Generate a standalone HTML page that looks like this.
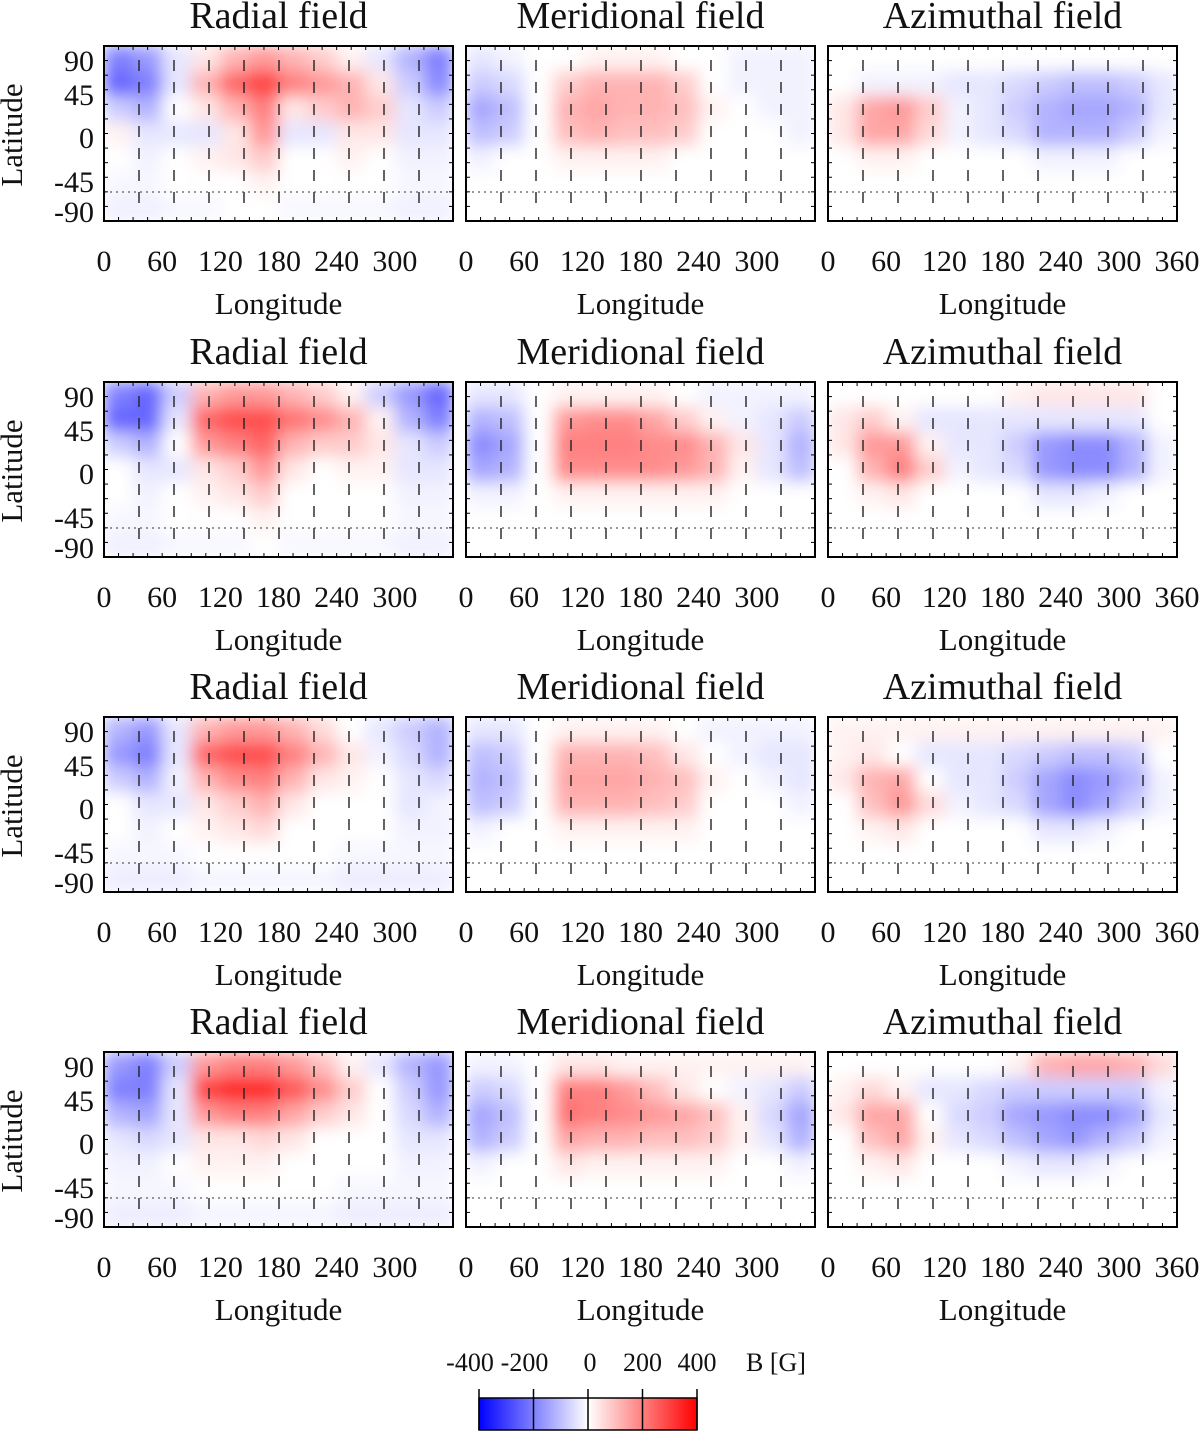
<!DOCTYPE html>
<html><head><meta charset="utf-8">
<style>
body{margin:0;background:#fff;}
svg text{font-family:"Liberation Serif",serif;fill:#111;}
</style></head>
<body>
<svg id="chart" width="1200" height="1432" viewBox="0 0 1200 1432" xmlns="http://www.w3.org/2000/svg">
<defs>
<filter id="blur" x="0" y="0" width="1" height="1"><feGaussianBlur stdDeviation="8" edgeMode="duplicate"/></filter>
<linearGradient id="cbar" x1="0" x2="1" y1="0" y2="0">
<stop offset="0" stop-color="#0000ff"/><stop offset="0.5" stop-color="#ffffff"/><stop offset="1" stop-color="#ff0000"/>
</linearGradient>
</defs>
</svg>
<script>
// Column titles, tick labels
const fieldTitles = ["Radial field","Meridional field","Azimuthal field"];
const lonTicks = [0,60,120,180,240,300,360];
const latTicks = ["90","45","0","-45","-90"];
const cbarTicks = [-400,-200,0,200,400];
// Heatmap grids: 7 latitude rows (north->south) x 12 longitude columns, values in units of 400 G
const gridR1 = [[-0.5,-0.4,-0.1,0.1,0.3,0.4,0.3,0.2,0.05,-0.1,-0.3,-0.5],[-0.6,-0.5,-0.1,0.3,0.6,0.75,0.5,0.4,0.3,0.1,-0.2,-0.45],[-0.2,-0.3,0,0.1,0.3,0.5,0.1,0.2,0.3,0.2,-0.1,-0.2],[0.05,-0.1,-0.1,-0.1,0.1,0.4,-0.1,-0.1,0.1,0.1,-0.1,-0.1],[0,-0.05,0,0.05,0.1,0.2,0,0,0.05,0,-0.05,-0.05],[-0.03,-0.03,0,0,0,0.05,0,0,0,0,-0.03,-0.03],[-0.06,-0.06,-0.03,-0.03,0,0,-0.03,-0.03,-0.03,-0.03,-0.06,-0.06]];
const gridM1 = [[-0.1,-0.05,0,0,0.05,0.05,0.05,0,0,-0.05,-0.05,-0.05],[-0.2,-0.15,0,0.2,0.3,0.3,0.3,0.2,0,-0.05,-0.05,-0.05],[-0.35,-0.25,0,0.3,0.35,0.3,0.3,0.25,0.05,0,-0.05,-0.05],[-0.25,-0.2,0,0.25,0.3,0.25,0.25,0.2,0,0,0,-0.05],[-0.05,0,0,0.05,0.05,0.05,0.05,0,0,0,0,0],[0,0,0,0,0,0,0,0,0,0,0,0],[0,0,0,0,0,0,0,0,0,0,0,0]];
const gridA1 = [[0,0,0,0,0,0,0,0,0,0,0,0],[0,-0.05,-0.05,-0.05,-0.1,-0.1,-0.15,-0.2,-0.25,-0.25,-0.2,-0.1],[0.1,0.35,0.4,0.2,-0.05,-0.1,-0.2,-0.3,-0.35,-0.35,-0.3,-0.1],[0.1,0.35,0.35,0.15,-0.05,-0.1,-0.15,-0.3,-0.3,-0.3,-0.2,-0.05],[0,0.05,0.05,0,0,0,0,-0.05,-0.05,-0.05,0,0],[0,0,0,0,0,0,0,0,0,0,0,0],[0,0,0,0,0,0,0,0,0,0,0,0]];
const gridR2 = [[-0.5,-0.6,-0.2,0.3,0.4,0.4,0.3,0.2,0.05,-0.2,-0.4,-0.6],[-0.6,-0.6,-0.1,0.6,0.7,0.7,0.55,0.45,0.3,0.05,-0.3,-0.5],[-0.2,-0.3,0,0.4,0.5,0.6,0.3,0.2,0.2,0.1,-0.1,-0.2],[0,-0.1,-0.1,0.1,0.2,0.4,0.1,0,0.05,0.05,-0.1,-0.1],[0,-0.05,0,0.05,0.1,0.2,0,0,0,0,-0.05,-0.05],[-0.03,-0.03,0,0,0,0.05,0,0,0,0,-0.03,-0.03],[-0.06,-0.06,-0.03,-0.03,-0.03,0,-0.03,-0.03,-0.03,-0.03,-0.06,-0.06]];
const gridM2 = [[-0.1,-0.1,0,0.05,0.05,0.05,0.05,0,-0.05,-0.05,-0.05,-0.05],[-0.3,-0.25,0,0.4,0.45,0.45,0.35,0.2,0.05,-0.05,-0.1,-0.2],[-0.45,-0.35,0,0.5,0.5,0.5,0.45,0.45,0.3,0.1,-0.1,-0.3],[-0.35,-0.3,0,0.45,0.45,0.45,0.45,0.4,0.3,0.05,-0.1,-0.25],[-0.05,-0.05,0,0.05,0.05,0.05,0.05,0.05,0.05,0,0,0],[0,0,0,0,0,0,0,0,0,0,0,0],[0,0,0,0,0,0,0,0,0,0,0,0]];
const gridA2 = [[0,0,0,0,0,0,0.05,0.1,0.1,0.1,0.1,0],[0.1,0.2,0.05,-0.1,-0.1,-0.1,-0.1,-0.1,-0.1,-0.1,-0.1,0],[0.1,0.4,0.4,0.05,-0.1,-0.1,-0.2,-0.4,-0.45,-0.45,-0.3,-0.05],[0,0.3,0.5,0.2,-0.05,-0.1,-0.15,-0.4,-0.45,-0.45,-0.3,-0.05],[0,0.05,0.1,0,0,0,0,-0.1,-0.1,-0.05,0,0],[0,0,0,0,0,0,0,0,0,0,0,0],[0,0,0,0,0,0,0,0,0,0,0,0]];
const gridR3 = [[-0.3,-0.4,-0.1,0.3,0.4,0.4,0.3,0.15,0,-0.1,-0.2,-0.3],[-0.4,-0.5,-0.1,0.6,0.7,0.7,0.5,0.3,0.1,-0.05,-0.15,-0.3],[-0.2,-0.3,-0.05,0.3,0.45,0.5,0.3,0.1,0.05,0,-0.1,-0.15],[0,-0.1,-0.1,0.1,0.2,0.3,0.1,0,0,0,-0.1,-0.05],[0,-0.05,0,0.05,0.1,0.15,0,0,0,0,-0.05,-0.05],[-0.03,-0.03,-0.03,0,0,0,0,0,-0.03,-0.03,-0.03,-0.03],[-0.07,-0.07,-0.07,-0.04,-0.04,-0.04,-0.04,-0.04,-0.07,-0.07,-0.07,-0.07]];
const gridM3 = [[-0.1,-0.1,0,0.05,0.05,0.05,0.05,0,-0.05,-0.05,-0.05,-0.05],[-0.25,-0.2,0,0.3,0.3,0.3,0.25,0.1,0,-0.05,-0.1,-0.1],[-0.3,-0.25,0,0.35,0.35,0.35,0.3,0.25,0.05,0,-0.05,-0.1],[-0.25,-0.2,0,0.3,0.3,0.3,0.25,0.2,0,0,0,-0.05],[-0.05,0,0,0.05,0.05,0.05,0.05,0.05,0,0,0,0],[0,0,0,0,0,0,0,0,0,0,0,0],[0,0,0,0,0,0,0,0,0,0,0,0]];
const gridA3 = [[0.05,0.05,0.05,0.05,0.05,0.05,0.05,0.05,0.05,0.05,0.05,0.05],[0.05,0.1,0,-0.1,-0.1,-0.1,-0.15,-0.2,-0.25,-0.25,-0.2,0],[0.1,0.3,0.35,0,-0.1,-0.1,-0.2,-0.35,-0.45,-0.4,-0.3,-0.05],[0,0.25,0.4,0.15,-0.05,-0.1,-0.15,-0.35,-0.45,-0.35,-0.2,-0.05],[0,0.05,0.1,0,0,0,0,-0.1,-0.1,-0.05,0,0],[0,0,0,0,0,0,0,0,0,0,0,0],[0,0,0,0,0,0,0,0,0,0,0,0]];
const gridR4 = [[-0.4,-0.5,-0.2,0.4,0.5,0.5,0.4,0.25,0.05,-0.1,-0.3,-0.4],[-0.5,-0.5,-0.1,0.75,0.85,0.85,0.65,0.45,0.2,0,-0.2,-0.4],[-0.3,-0.35,-0.1,0.4,0.5,0.5,0.35,0.2,0.1,0,-0.15,-0.3],[-0.1,-0.15,-0.1,0.1,0.1,0.15,0.1,0,0,0,-0.1,-0.1],[-0.05,-0.05,0,0.05,0.05,0.05,0,0,0,0,-0.05,-0.05],[-0.03,-0.03,-0.03,0,0,0,0,0,-0.03,-0.03,-0.03,-0.03],[-0.07,-0.07,-0.07,-0.04,-0.04,-0.04,-0.04,-0.04,-0.07,-0.07,-0.07,-0.07]];
const gridM4 = [[-0.05,-0.05,0,0.1,0.1,0.05,0.05,0.05,0.05,0.05,0.05,0.05],[-0.2,-0.15,0,0.5,0.5,0.4,0.25,0.1,0,-0.05,-0.1,-0.2],[-0.35,-0.25,0,0.55,0.5,0.45,0.4,0.35,0.25,0.05,-0.15,-0.35],[-0.3,-0.2,0,0.35,0.3,0.3,0.25,0.25,0.2,0.05,-0.1,-0.3],[-0.05,0,0,0.1,0.05,0.05,0.05,0.05,0.05,0,0,-0.05],[0,0,0,0,0,0,0,0,0,0,0,0],[0,0,0,0,0,0,0,0,0,0,0,0]];
const gridA4 = [[0,0,0,0,0,0,0.05,0.3,0.35,0.35,0.3,0.15],[0.05,0.15,0.05,-0.1,-0.1,-0.15,-0.2,-0.2,-0.2,-0.2,-0.2,-0.05],[0.1,0.35,0.35,0,-0.15,-0.2,-0.35,-0.4,-0.45,-0.45,-0.35,-0.1],[0,0.25,0.35,0.05,-0.1,-0.15,-0.25,-0.35,-0.4,-0.3,-0.2,-0.05],[0,0.05,0.1,0,0,0,-0.05,-0.1,-0.1,-0.05,0,0],[0,0,0,0,0,0,0,0,0,0,0,0],[0,0,0,0,0,0,0,0,0,0,0,0]];
const gridRows = [[gridR1,gridM1,gridA1],[gridR2,gridM2,gridA2],[gridR3,gridM3,gridA3],[gridR4,gridM4,gridA4]];

const NS="http://www.w3.org/2000/svg";
const svg=document.getElementById('chart');
function mk(tag,attrs,parent){const e=document.createElementNS(NS,tag);for(const k in attrs)e.setAttribute(k,attrs[k]);(parent||svg).appendChild(e);return e;}
function color(v){v=Math.max(-1,Math.min(1,v));if(v>=0){const c=Math.round(255*(1-v));return `rgb(255,${c},${c})`;}const c=Math.round(255*(1+v));return `rgb(${c},${c},255)`;}
const panelX=[104,466,828], panelY=[46,382,717,1052], PW=349, PH=175;
function xScale(px,lon){return px+lon/360*PW;}
const latOffsets=[14,48,91,135,165];

gridRows.forEach((row,ri)=>{
  row.forEach((grid,ci)=>{
    const px=panelX[ci], py=panelY[ri];
    const g=mk('g',{});
    
    
    const t=mk('text',{x:px+PW/2,y:py-18,'text-anchor':'middle','font-size':38},g);
    t.textContent=fieldTitles[ci];
    
    
    const hm=mk('g',{filter:'url(#blur)'},g);
    
    
    const nr=grid.length, nc=grid[0].length, cw=PW/nc, ch=PH/nr;
    grid.forEach((r,i)=>r.forEach((v,j)=>{
      const c=mk('rect',{x:px+j*cw,y:py+i*ch,width:cw+0.5,height:ch+0.5,fill:color(v)},hm);
      
      
    }));
    for(let k=1;k<=9;k++){
      const l=mk('line',{x1:px+k*35,x2:px+k*35,y1:py+14,y2:py+166,stroke:'#222','stroke-width':1.4,'stroke-dasharray':'11,11'},g);
      
      
    }
    const d=mk('line',{x1:px,x2:px+PW,y1:py+146,y2:py+146,stroke:'#333','stroke-width':1,'stroke-dasharray':'2,4'},g);
    
    
    for(let k=1;k<24;k++){const x=px+k*PW/24;mk('line',{x1:x,x2:x,y1:py,y2:py+4,stroke:'#000'},g);mk('line',{x1:x,x2:x,y1:py+PH,y2:py+PH-4,stroke:'#000'},g);}
    for(let k=1;k<12;k++){const y=py+k*PH/12;mk('line',{x1:px,x2:px+4,y1:y,y2:y,stroke:'#000'},g);mk('line',{x1:px+PW,x2:px+PW-4,y1:y,y2:y,stroke:'#000'},g);}
    const b=mk('rect',{x:px,y:py,width:PW,height:PH,fill:'none',stroke:'#000','stroke-width':2},g);
    
    
    lonTicks.forEach(lon=>{
      if(lon===360&&ci<2)return;
      const tl=mk('text',{x:xScale(px,lon),y:py+225,'text-anchor':'middle','font-size':30},g);
      tl.textContent=lon;
      
      
    });
    const xl=mk('text',{x:px+PW/2,y:py+268,'text-anchor':'middle','font-size':31},g);
    xl.textContent='Longitude';
    
    
    if(ci===0){
      latTicks.forEach((lab,i)=>{
        const yl=mk('text',{x:94,y:py+latOffsets[i]+11,'text-anchor':'end','font-size':30},g);
        yl.textContent=lab;
        
        
      });
      const yt=mk('text',{x:0,y:0,'text-anchor':'middle','font-size':31,transform:`translate(22,${py+89}) rotate(-90)`},g);
      yt.textContent='Latitude';
      
      
    }
  });
});

// colorbar
const cb=mk('g',{});


const cx0=479,cx1=697,cy=1398,ch=32;
mk('rect',{x:cx0,y:cy,width:cx1-cx0,height:ch,fill:'url(#cbar)',stroke:'#000','stroke-width':1.5},cb);
cbarTicks.forEach(v=>{
  const x=cx0+(v+400)/800*(cx1-cx0);
  mk('line',{x1:x,x2:x,y1:cy-9,y2:cy+ch,stroke:'#000','stroke-width':1.5},cb);
  const t=mk('text',{x:x-(v<0?9:0)+(v===0?2:0),y:1371,'text-anchor':'middle','font-size':26},cb);
  t.textContent=v;
  
  
});
const cu=mk('text',{x:776,y:1371,'text-anchor':'middle','font-size':26},cb);
cu.textContent='B [G]';


</script>
</body></html>
